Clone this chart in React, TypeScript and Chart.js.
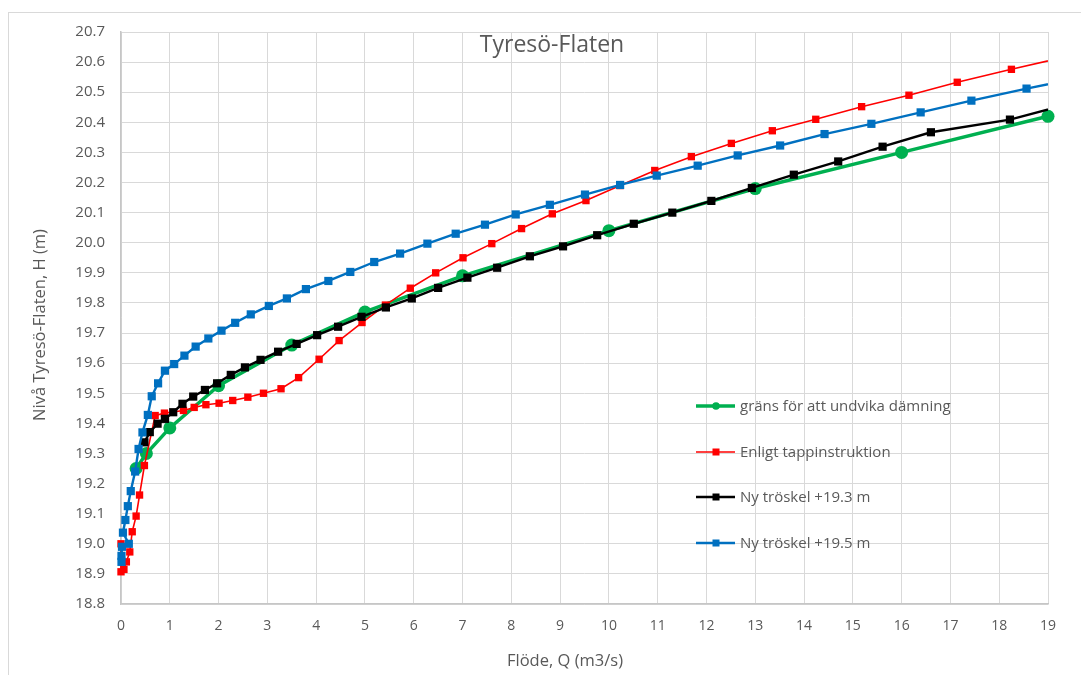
import React, { useEffect, useRef } from "react";
import { Chart, registerables } from "chart.js";

Chart.register(...registerables);

const chartTitle = "Tyresö-Flaten";
const xTitle = "Flöde, Q (m3/s)";
const yTitle = "Nivå Tyresö-Flaten, H (m)";

const seriesNames = [
  "gräns för att undvika dämning",
  "Enligt tappinstruktion",
  "Ny tröskel +19.3 m",
  "Ny tröskel +19.5 m",
];

const qGrans = [0.31, 0.52, 1.0, 2.0, 3.5, 5.0, 7.0, 10.0, 13.0, 16.0, 19.0];
const hGrans = [19.25, 19.3, 19.385, 19.525, 19.66, 19.77, 19.89, 20.04, 20.18, 20.3, 20.42];

const qTapp = [0, 0, 0.06, 0.11, 0.18, 0.23, 0.31, 0.38, 0.48, 0.7, 0.89, 1.28, 1.5, 1.74, 2.01, 2.29, 2.6, 2.92, 3.28, 3.64, 4.06, 4.47, 4.94, 5.42, 5.93, 6.45, 7.01, 7.6, 8.21, 8.84, 9.53, 10.23, 10.94, 11.69, 12.51, 13.35, 14.24, 15.18, 16.15, 17.14, 18.25, 19.4];
const hTapp = [19.0, 18.907, 18.915, 18.94, 18.973, 19.04, 19.092, 19.162, 19.26, 19.426, 19.434, 19.443, 19.453, 19.462, 19.467, 19.476, 19.487, 19.5, 19.515, 19.552, 19.613, 19.675, 19.735, 19.793, 19.849, 19.9, 19.95, 19.997, 20.047, 20.096, 20.14, 20.19, 20.24, 20.286, 20.33, 20.372, 20.41, 20.452, 20.49, 20.533, 20.576, 20.619];

const q193 = [0.48, 0.59, 0.75, 0.9, 1.07, 1.26, 1.48, 1.72, 1.97, 2.25, 2.54, 2.86, 3.22, 3.6, 4.02, 4.45, 4.93, 5.43, 5.96, 6.5, 7.1, 7.71, 8.38, 9.06, 9.76, 10.51, 11.3, 12.1, 12.93, 13.79, 14.7, 15.61, 16.6, 18.22, 19.3];
const h193 = [19.337, 19.371, 19.399, 19.415, 19.437, 19.465, 19.489, 19.511, 19.533, 19.561, 19.586, 19.611, 19.638, 19.664, 19.693, 19.721, 19.754, 19.785, 19.815, 19.85, 19.884, 19.917, 19.955, 19.988, 20.025, 20.063, 20.1, 20.139, 20.182, 20.226, 20.27, 20.319, 20.367, 20.409, 20.456];

const q195 = [0.01, 0.01, 0.02, 0.16, 0.04, 0.09, 0.14, 0.2, 0.29, 0.36, 0.44, 0.55, 0.63, 0.76, 0.9, 1.09, 1.3, 1.53, 1.79, 2.06, 2.34, 2.66, 3.03, 3.4, 3.79, 4.25, 4.7, 5.19, 5.72, 6.28, 6.86, 7.46, 8.09, 8.79, 9.51, 10.23, 10.98, 11.82, 12.64, 13.51, 14.42, 15.38, 16.39, 17.43, 18.56, 19.7];
const h195 = [18.94, 18.96, 18.99, 19.0, 19.037, 19.079, 19.125, 19.175, 19.24, 19.315, 19.37, 19.428, 19.49, 19.533, 19.575, 19.597, 19.625, 19.655, 19.682, 19.708, 19.734, 19.762, 19.79, 19.815, 19.846, 19.873, 19.903, 19.936, 19.964, 19.997, 20.03, 20.06, 20.094, 20.126, 20.16, 20.192, 20.223, 20.256, 20.29, 20.323, 20.361, 20.395, 20.433, 20.472, 20.512, 20.55];

const xMin = 0;
const xMax = 19;
const yMin = 18.8;
const yMax = 20.7;

const colors = ["#00b050", "#ff0000", "#000000", "#0070c0"];
const textColor = "#595959";
const FONT = "'Open Sans', 'Noto Sans', sans-serif";

const toPts = (xs: number[], ys: number[]) => xs.map((x, i) => ({ x, y: ys[i] }));

const overlayPlugin = {
  id: "overlayText",
  afterDraw(chart: any) {
    const ctx = chart.ctx as CanvasRenderingContext2D;
    ctx.save();
    ctx.fillStyle = textColor;
    // title
    ctx.font = `23px ${FONT}`;
    ctx.textAlign = "center";
    ctx.textBaseline = "middle";
    ctx.fillText(chartTitle, 552, 45);
    // x title
    ctx.font = `16.5px ${FONT}`;
    ctx.fillText(xTitle, 565, 661);
    // y title
    ctx.save();
    ctx.translate(40, 325);
    ctx.rotate(-Math.PI / 2);
    ctx.fillText(yTitle, 0, 0);
    ctx.restore();
    // legend
    const ys = [406, 452, 497, 543];
    const lw = [3.5, 1.6, 2.4, 2.4];
    ctx.font = `15px ${FONT}`;
    ctx.textAlign = "left";
    seriesNames.forEach((name, i) => {
      const y = ys[i];
      ctx.strokeStyle = colors[i];
      ctx.lineWidth = lw[i];
      ctx.beginPath();
      ctx.moveTo(696, y);
      ctx.lineTo(735, y);
      ctx.stroke();
      ctx.fillStyle = colors[i];
      if (i === 0) {
        ctx.beginPath();
        ctx.arc(716, y, 3.8, 0, Math.PI * 2);
        ctx.fill();
      } else {
        ctx.fillRect(712.5, y - 3.5, 7, 7);
      }
      ctx.fillStyle = textColor;
      ctx.fillText(name, 740, y + 1);
    });
    ctx.restore();
  },
};

export default function App() {
  const ref = useRef<HTMLCanvasElement | null>(null);

  useEffect(() => {
    if (!ref.current) return;
    const clipRight = { left: 12, top: 12, right: 0, bottom: 12 };
    const chart = new Chart(ref.current, {
      type: "scatter",
      data: {
        datasets: [
          {
            label: seriesNames[0],
            data: toPts(qGrans, hGrans),
            showLine: true,
            borderColor: colors[0],
            backgroundColor: colors[0],
            borderWidth: 3.5,
            pointStyle: "circle",
            pointRadius: 6.5,
            pointBorderWidth: 0,
            tension: 0,
            order: 4,
            clip: false as any,
          },
          {
            label: seriesNames[1],
            data: toPts(qTapp, hTapp),
            showLine: true,
            borderColor: colors[1],
            backgroundColor: colors[1],
            borderWidth: 1.6,
            pointStyle: "rect",
            pointRadius: 5.2,
            pointBorderWidth: 0,
            tension: 0,
            order: 3,
            clip: clipRight as any,
          },
          {
            label: seriesNames[2],
            data: toPts(q193, h193),
            showLine: true,
            borderColor: colors[2],
            backgroundColor: colors[2],
            borderWidth: 2.4,
            pointStyle: "rect",
            pointRadius: 5.8,
            pointBorderWidth: 0,
            tension: 0,
            order: 2,
            clip: clipRight as any,
          },
          {
            label: seriesNames[3],
            data: toPts(q195, h195),
            showLine: true,
            borderColor: colors[3],
            backgroundColor: colors[3],
            borderWidth: 2.4,
            pointStyle: "rect",
            pointRadius: 5.8,
            pointBorderWidth: 0,
            tension: 0,
            order: 1,
            clip: clipRight as any,
          },
        ],
      },
      options: {
        responsive: false,
        animation: false,
        layout: { padding: { left: 0, top: 32, right: 33, bottom: 0 } },
        plugins: {
          legend: { display: false },
          title: { display: false },
          tooltip: { enabled: false },
        },
        scales: {
          x: {
            type: "linear",
            min: xMin,
            max: xMax,
            ticks: {
              stepSize: 1,
              color: textColor,
              font: { family: FONT, size: 14 },
              padding: 14,
              maxRotation: 0,
            },
            grid: { color: "#d9d9d9", lineWidth: 1, drawTicks: false },
            border: { color: "#c6c6c6", width: 1.5 },
            afterFit: (s: any) => {
              s.height = 71;
            },
          },
          y: {
            type: "linear",
            min: yMin,
            max: yMax,
            ticks: {
              stepSize: 0.1,
              color: textColor,
              font: { family: FONT, size: 15 },
              padding: 16,
              callback: (v: any) => Number(v).toFixed(1),
            },
            grid: { color: "#d9d9d9", lineWidth: 1, drawTicks: false },
            border: { color: "#c6c6c6", width: 1.5 },
            afterFit: (s: any) => {
              s.width = 121;
            },
          },
        },
      },
      plugins: [overlayPlugin],
    });
    return () => chart.destroy();
  }, []);

  return (
    <div style={{ position: "absolute", left: 0, top: 0, width: 1081, height: 675, background: "#fff", overflow: "hidden" }}>
      <div
        style={{
          position: "absolute",
          left: 8,
          top: 12,
          width: 1200,
          height: 800,
          border: "1px solid #d9d9d9",
        }}
      />
      <canvas ref={ref} width={1081} height={675} style={{ position: "absolute", left: 0, top: 0, display: "block" }} />
    </div>
  );
}
